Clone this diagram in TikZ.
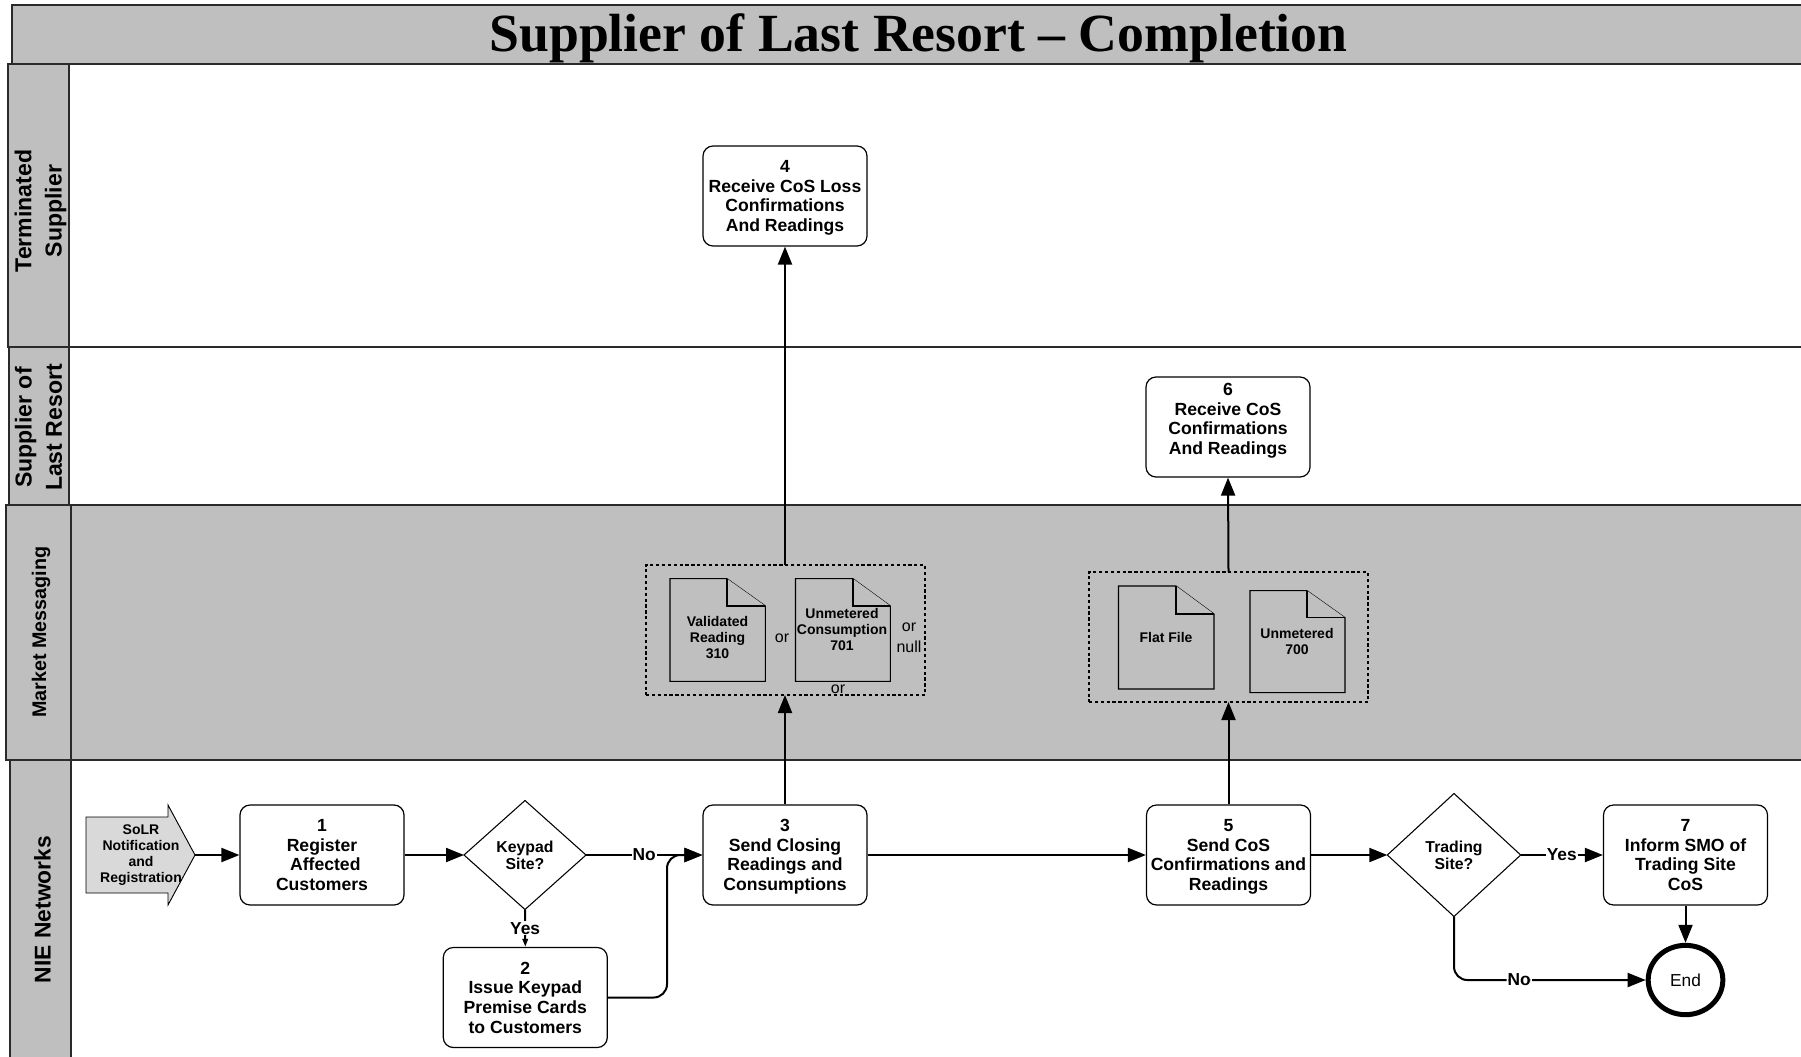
\documentclass[tikz,border=0pt]{standalone}
\usepackage{fontspec}
\setmainfont{Liberation Sans}
\newfontfamily\titlefont{Liberation Serif}
\usetikzlibrary{arrows.meta,fit,shapes.geometric}
\definecolor{lanegray}{HTML}{BFBFBF}
\definecolor{arrowgray}{HTML}{D9D9D9}
\definecolor{laneline}{HTML}{2A2A2A}
\tikzset{
  x=0.75pt,y=-0.75pt,
  lanebody/.style={draw=laneline,line width=1.7pt,inner sep=0pt,outer sep=0pt},
  lanehead/.style={draw=laneline,line width=1.2pt,fill=lanegray,inner sep=0pt,outer sep=0pt},
  lanetext/.style={font=\bfseries\fontsize{#1}{22.6}\selectfont,align=center,rotate=90,inner sep=0pt},
  procbox/.style={draw=black,line width=0.9pt,fill=white,rounded corners=7.5pt,inner sep=0pt,align=center,
    minimum width=123pt,minimum height=75pt,text depth=0pt,
    font=\bfseries\fontsize{13.2}{14.75}\selectfont},
  decide/.style={draw=black,line width=0.8pt,fill=white,diamond,aspect=1,inner sep=0pt,outer sep=0pt,align=center,
    font=\bfseries\fontsize{11.85}{12.6}\selectfont},
  groupbox/.style={draw=black,line width=1.3pt,dash pattern=on 2.4pt off 2pt,inner sep=0pt,outer sep=0pt},
  doctext/.style={font=\bfseries\fontsize{10.5}{12}\selectfont,align=center,inner sep=0pt},
  docline/.style={draw=black,line width=0.8pt,fill=lanegray},
  plain/.style={font=\fontsize{12}{14}\selectfont,inner sep=0pt},
  conn/.style={draw=black,line width=1.5pt,-{Triangle[length=13.5pt,width=10.5pt]}},
  lbl/.style={font=\bfseries\fontsize{13}{14}\selectfont,fill=white,inner sep=0.8pt},
}
\begin{document}
\begin{tikzpicture}
\useasboundingbox (0,0) rectangle (1801,1056);
\clip (0,0) rectangle (1801,1056);
\fill[white] (0,0) rectangle (1801,1056);
% title band
\node[fit={(12,5)(1803,64)},draw=laneline,line width=1.2pt,fill=lanegray,inner sep=0pt,outer sep=0pt] (titleband) {};
\node[font=\titlefont\bfseries\fontsize{40.3}{48}\selectfont,inner sep=0pt] (titletext) at (918.5,38) {Supplier of Last Resort – Completion};
% lanes
\node[lanebody,fit={(69,64)(1804,347)},fill=white] (lane1) {};
\node[lanebody,fit={(69,347)(1804,505)},fill=white] (lane2) {};
\node[lanebody,fit={(71,505)(1804,760)},fill=lanegray] (lane3) {};
\node[lanebody,fit={(71,760)(1804,1060)},fill=white] (lane4) {};
\node[lanehead,fit={(8,64)(69,347)}] (head1) {};
\node[lanehead,fit={(9,347)(69,505)}] (head2) {};
\node[lanehead,fit={(6,505)(71,760)}] (head3) {};
\node[lanehead,fit={(10,760)(71,1060)}] (head4) {};
\node[lanetext=17.3] (head1t) at (40.5,211) {Terminated\\Supplier};
\node[lanetext=17.3] (head2t) at (38.5,427.5) {Supplier of\\Last Resort};
\node[lanetext=14.8] (head3t) at (41,632) {Market Messaging};
\node[lanetext=17.1] (head4t) at (42.5,909.5) {NIE Networks};
% start arrow
\draw[draw=black,line width=0.7pt,fill=arrowgray] (86,817) -- (168,817) -- (168,805) -- (195,855) -- (168,905) -- (168,893) -- (86,893) -- cycle;
\coordinate (starttip) at (195,855);
\node[doctext] (starttext) at (141,855) {SoLR\\Notification\\and\\Registration};
% processes
\node[procbox] (b1) at (322,855) {1\\Register\\\hspace{5pt}Affected\\Customers};
\node[procbox] (b2) at (525.3,997.5) {2\\Issue Keypad\\Premise Cards\\to Customers};
\node[procbox] (b3) at (785,855) {3\\Send Closing\\Readings and\\Consumptions};
\node[procbox] (b4) at (785,196) {4\\Receive CoS Loss\\Confirmations\\And Readings};
\node[procbox] (b5) at (1228.5,855) {5\\Send CoS\\Confirmations and\\Readings};
\node[procbox,text depth=12pt] (b6) at (1228,427) {6\\Receive CoS\\Confirmations\\And Readings};
\node[procbox] (b7) at (1685.5,855) {7\\Inform SMO of\\Trading Site\\CoS};
\node[decide,minimum width=91.5pt,minimum height=81.75pt] (keypad) at (525,855) {Keypad\\Site?};
\node[decide,minimum width=100pt,minimum height=92.25pt] (trading) at (1454,855) {Trading\\Site?};
\node[draw=black,line width=3.75pt,fill=white,ellipse,inner sep=0pt,minimum width=56pt,minimum height=52pt,font=\fontsize{13}{15}\selectfont] (endn) at (1685.5,980) {End};
% message groups
\node[groupbox,fit={(646,565)(925,695)}] (g1) {};
\node[groupbox,fit={(1089,572)(1368,702)}] (g2) {};
\draw[docline] (670,578.7) -- (727,578.7) -- (765.4,606) -- (765.4,681.3) -- (670,681.3) -- cycle;
\draw[docline] (727,578.7) -- (727,606) -- (765.4,606);
\draw[docline] (795.5,578.7) -- (853,578.7) -- (890.4,606) -- (890.4,681.3) -- (795.5,681.3) -- cycle;
\draw[docline] (853,578.7) -- (853,606) -- (890.4,606);
\draw[docline] (1118.5,586) -- (1176,586) -- (1214,614) -- (1214,689) -- (1118.5,689) -- cycle;
\draw[docline] (1176,586) -- (1176,614) -- (1214,614);
\draw[docline] (1250,590.7) -- (1307,590.7) -- (1345,617.7) -- (1345,692.7) -- (1250,692.7) -- cycle;
\draw[docline] (1307,590.7) -- (1307,617.7) -- (1345,617.7);
\node[doctext] (d1) at (717.5,637.5) {Validated\\Reading\\310};
\node[doctext] (d2) at (842,629.5) {Unmetered\\Consumption\\701};
\node[doctext] (d3) at (1166,637.7) {Flat File};
\node[doctext] (d4) at (1297,641.7) {Unmetered\\700};
\node[plain] (or1) at (782,638) {or};
\node[plain] (or2) at (909,627) {or};
\node[plain] (nul) at (909,647) {null};
\node[plain] (or3) at (838,689) {or};
% connectors
\coordinate (g1b) at (785,695);
\coordinate (g1t) at (785,565);
\coordinate (g2b) at (1228.5,702);
\coordinate (g2t) at (1228.5,572);
\coordinate (joinpt) at (667,855);
\draw[conn] (starttip) -- (b1.west);
\draw[conn] (b1.east) -- (keypad.west);
\draw[draw=black,line width=1.5pt,-{Triangle[length=6pt,width=4pt]}] (keypad.south) -- node[lbl] {Yes} (b2.north);
\draw[conn] (keypad.east) -- node[lbl,pos=0.5] {No} (b3.west);
\draw[conn,rounded corners=10pt] (b2.east) -| (joinpt) -- (b3.west);
\draw[conn] (b3.north) -- (g1b);
\draw[conn] (g1t) -- (b4.south);
\draw[conn] (b3.east) -- (b5.west);
\draw[conn] (b5.north) -- (g2b);
\draw[conn] (g2t) -- (b6.south);
\draw[conn] (b5.east) -- (trading.west);
\draw[conn] (trading.east) -- node[lbl,pos=0.5] {Yes} (b7.west);
\draw[conn] (b7.south) -- (endn.north);
\draw[conn,rounded corners=10pt] (trading.south) |- node[lbl,pos=0.67] {No} (endn.west);
\end{tikzpicture}
\end{document}
